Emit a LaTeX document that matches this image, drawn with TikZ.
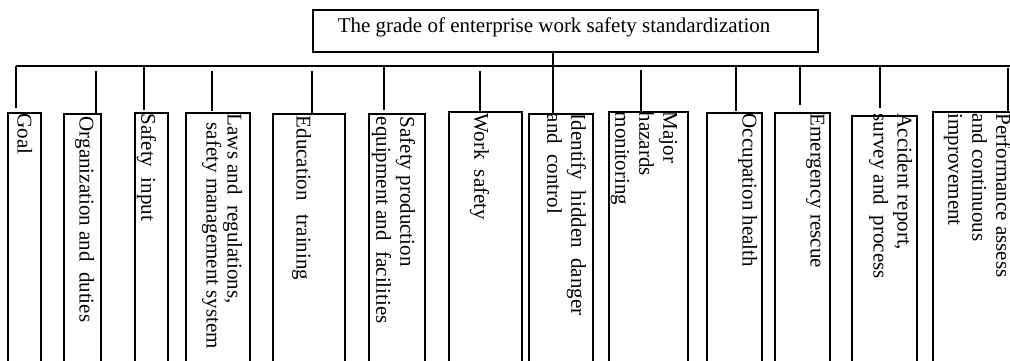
\documentclass[tikz,border=0pt]{standalone}
\usepackage{fontspec}
\setmainfont{Liberation Serif}
\begin{document}
\begin{tikzpicture}[x=1pt,y=-1pt,
  line width=1.5pt,
  box/.style={draw, line width=1.5pt, inner sep=0pt, anchor=north west, minimum height=270pt},
  lbl/.style={rotate=-90, anchor=north west, inner sep=0pt, align=left,
    font=\fontsize{21}{24}\selectfont},
  ttl/.style={anchor=base west, inner sep=0pt, font=\fontsize{21}{24}\selectfont}]
\useasboundingbox (0,0) rectangle (1010,360);
\clip (0,0) rectangle (1010,360);
\fill[white] (0,0) rectangle (1010,360);

% title
\node[draw, line width=1.5pt, minimum width=505pt, minimum height=42pt, inner sep=0pt, anchor=north west] (title) at (312,9) {};
\node[ttl] (titletext) at (337,32) {The grade of enterprise work safety standardization};

% bus
\coordinate (busL) at (16,66);
\coordinate (busR) at (1015,66);
\draw (busL) -- (busR);

% boxes
\node[box, minimum width=33pt] (goal)  at (7,112) {};
\node[box, minimum width=37pt] (org)   at (63,113) {};
\node[box, minimum width=33pt] (sinp)  at (134,112) {};
\node[box, minimum width=64pt] (laws)  at (185,112) {};
\node[box, minimum width=72pt] (edu)   at (272,113) {};
\node[box, minimum width=56pt] (sprod) at (368,113) {};
\node[box, minimum width=73pt] (work)  at (448,111) {};
\node[box, minimum width=64pt] (ident) at (528,113) {};
\node[box, minimum width=79pt] (major) at (608,111) {};
\node[box, minimum width=55pt] (occ)   at (706,112) {};
\node[box, minimum width=55pt] (emerg) at (774,112) {};
\node[box, minimum width=65pt] (acc)   at (851,115) {};
\node[box, minimum width=98pt] (perf)  at (932,111) {};

% labels
\node[lbl] (tgoal)  at (33,113)  {Goal};
\node[lbl] (torg)   at (95,116)  {Organization and\ \ duties};
\node[lbl] (tsinp)  at (157,113) {Safety\ \ input};
\node[lbl, font=\fontsize{21}{21}\selectfont] (tlaws) at (243,113) {Laws and\ \ regulations,\\\hspace*{9pt}safety management system};
\node[lbl] (tedu)   at (312,115) {Education\hspace{14pt}training};
\node[lbl] (tsprod) at (416,116) {Safety production\\equipment and\ \ facilities};
\node[lbl] (twork)  at (490,113) {Work\hspace{10pt}safety};
\node[lbl] (tident) at (587,113) {Identify\ \ hidden\ \ danger\\and\ \ control};
\node[lbl] (tmajor) at (678,111) {Major\\hazards\\monitoring};
\node[lbl] (tocc)   at (758,113) {Occupation health};
\node[lbl] (temerg) at (825,113) {Emergency rescue};
\node[lbl] (tacc)   at (913,113) {Accident report,\\survey and\ \ process};
\node[lbl] (tperf)  at (1012,113) {Performance assess\\and continuous\\improvement};

% drops
\coordinate (gA) at (16,66);   \coordinate (gB) at (16,108);
\coordinate (oA) at (96,71);   \coordinate (oB) at (96,113);
\coordinate (sA) at (144,66);  \coordinate (sB) at (144,110);
\coordinate (lA) at (212,71);  \coordinate (lB) at (212,111);
\coordinate (eA) at (312,71);  \coordinate (eB) at (312,113);
\coordinate (pA) at (384,66);  \coordinate (pB) at (384,110);
\coordinate (wA) at (480,71);  \coordinate (wB) at (480,111);
\coordinate (iB) at (553,114);
\coordinate (mA) at (641,70);  \coordinate (mB) at (641,111);
\coordinate (cA) at (736,66);  \coordinate (cB) at (736,111);
\coordinate (rA) at (800,66);  \coordinate (rB) at (800,105);
\coordinate (aA) at (880,67);  \coordinate (aB) at (880,108);
\coordinate (fA) at (1008,68); \coordinate (fB) at (1008,112);

\draw (gA) -- (gB);
\draw (oA) -- (oB);
\draw (sA) -- (sB);
\draw (lA) -- (lB);
\draw (eA) -- (eB);
\draw (pA) -- (pB);
\draw (wA) -- (wB);
\draw (title.south -| iB) -- (iB);
\draw (mA) -- (mB);
\draw (cA) -- (cB);
\draw (rA) -- (rB);
\draw (aA) -- (aB);
\draw (fA) -- (fB);
\end{tikzpicture}
\end{document}
